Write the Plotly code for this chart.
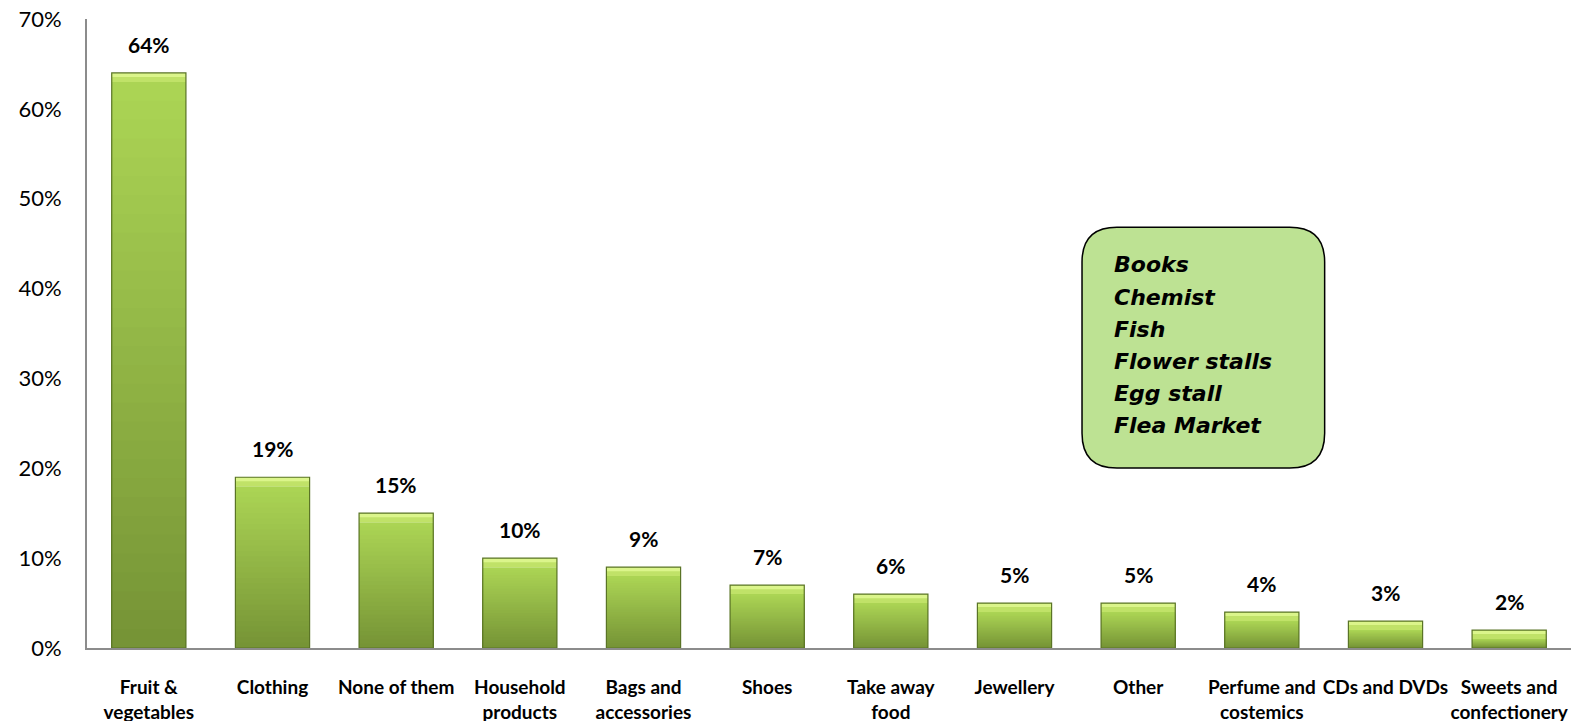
import plotly.graph_objects as go

# Share of respondents by stall type
categories = [
    "Fruit &<br>vegetables", "Clothing", "None of them", "Household<br>products",
    "Bags and<br>accessories", "Shoes", "Take away<br>food", "Jewellery", "Other",
    "Perfume and<br>costemics", "CDs and DVDs", "Sweets and<br>confectionery",
]
values = [64, 19, 15, 10, 9, 7, 6, 5, 5, 4, 3, 2]
y_ticks = [0, 10, 20, 30, 40, 50, 60, 70]
y_tick_labels = ["0%", "10%", "20%", "30%", "40%", "50%", "60%", "70%"]
other_stalls = ["Books", "Chemist", "Fish", "Flower stalls", "Egg stall", "Flea Market"]

BOTTOM = (0x76, 0x94, 0x36)
TOP = (0xAB, 0xD4, 0x54)
N_SLICES = 30
BEVEL = 1.0  # height of the light top edge, in axis units

PLOT_H = 629  # plot area height in px, used to place the call-out text lines


def mix(a, b, t):
    return "rgb({},{},{})".format(*[round(a[i] + (b[i] - a[i]) * t) for i in range(3)])


fig = go.Figure()

# bar body: nested bars from the base, each shorter one darker, giving a vertical gradient
body = [max(v - BEVEL, 0) for v in values]
for k in range(N_SLICES):
    frac = (N_SLICES - k) / N_SLICES
    fig.add_trace(go.Bar(
        x=categories,
        y=[b * frac for b in body],
        marker=dict(color=mix(BOTTOM, TOP, (N_SLICES - 1 - k) / (N_SLICES - 1)),
                    line=dict(width=0)),
        hoverinfo="skip", showlegend=False,
    ))

# light bevel on the top of each bar
fig.add_trace(go.Bar(
    x=categories, y=[BEVEL] * len(values),
    base=body,
    marker=dict(color="#c0e268", line=dict(width=0)),
    hoverinfo="skip", showlegend=False,
))
fig.add_trace(go.Bar(
    x=categories, y=[BEVEL * 0.45] * len(values),
    base=[v - BEVEL * 0.45 for v in values],
    marker=dict(color="#dbf58b", line=dict(width=0)),
    hoverinfo="skip", showlegend=False,
))

# outline of each bar
fig.add_trace(go.Bar(
    x=categories, y=values,
    marker=dict(color="rgba(0,0,0,0)", line=dict(color="#5a7426", width=1.2)),
    hovertemplate="%{x}: %{y}%<extra></extra>", showlegend=False,
))

# value labels above the bars
for c, v in zip(categories, values):
    fig.add_annotation(
        x=c, y=v, text=f"<b>{v}%</b>", showarrow=False,
        yanchor="bottom", yshift=14,
        font=dict(family="Lato", size=21, color="black"),
    )

# rounded call-out box listing the other stall types
x0, x1, y0, y1, r = 0.6705, 0.834, 0.286, 0.669, 0.0235
ry = r * 1484 / PLOT_H
path = (
    f"M {x0 + r},{y1} L {x1 - r},{y1} Q {x1},{y1} {x1},{y1 - ry} "
    f"L {x1},{y0 + ry} Q {x1},{y0} {x1 - r},{y0} "
    f"L {x0 + r},{y0} Q {x0},{y0} {x0},{y0 + ry} "
    f"L {x0},{y1 - ry} Q {x0},{y1} {x0 + r},{y1} Z"
)
fig.add_shape(type="path", xref="paper", yref="paper", path=path,
              fillcolor="#bde293", line=dict(color="black", width=1.5), layer="above")

# one annotation per line so the line spacing stays tight
first_line_y, line_step = 0.609, 32.1 / PLOT_H
for i, s in enumerate(other_stalls):
    fig.add_annotation(
        xref="paper", yref="paper", x=0.691, y=first_line_y - i * line_step,
        xanchor="left", yanchor="middle", align="left", showarrow=False,
        text=f"<b><i>{s}</i></b>",
        font=dict(family="DejaVu Sans", size=22, color="black"),
    )

fig.update_layout(
    width=1595, height=721,
    margin=dict(l=87, r=24, t=19, b=73),
    paper_bgcolor="white", plot_bgcolor="white",
    barmode="overlay", bargap=0.4,
    xaxis=dict(
        showline=True, linecolor="#8c8c8c", linewidth=2, showgrid=False,
        ticks="", automargin=False, tickangle=0,
        tickfont=dict(family="Lato", size=19, color="black", weight="bold"),
        ticklabelstandoff=21,
    ),
    yaxis=dict(
        range=[0, 70], tickmode="array", tickvals=y_ticks, ticktext=y_tick_labels,
        showline=True, linecolor="#8c8c8c", linewidth=2, showgrid=False,
        zeroline=False, ticks="", ticklabelstandoff=19, automargin=False,
        tickfont=dict(family="Lato", size=22, color="black"),
    ),
    font=dict(family="Lato"),
)

fig.write_html("out.html")
